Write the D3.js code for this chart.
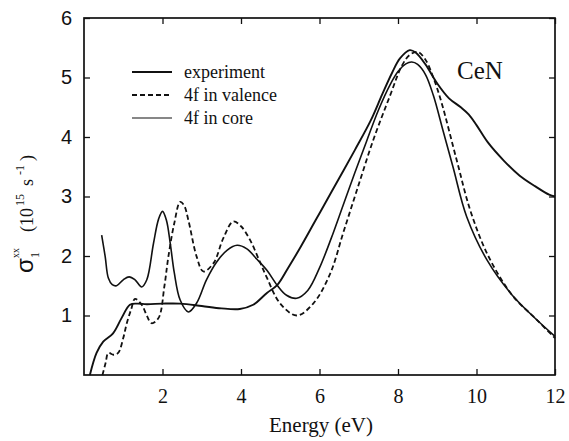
<!DOCTYPE html>
<html>
<head>
<meta charset="utf-8">
<script src="https://cdn.jsdelivr.net/npm/d3@7.9.0/dist/d3.min.js"></script>
<style>
  body { margin: 0; background: #fff; }
  svg { display: block; }
  .serif { font-family: "Liberation Serif", "Times New Roman", serif; }
  .sans { font-family: "Liberation Sans", Arial, sans-serif; }
</style>
</head>
<body>
<svg id="chart" width="569" height="441"></svg>
<script>
// --- data (energy in eV, sigma in 10^15 s^-1) ---
const expE = [0.15, 0.32, 0.49, 0.74, 0.96, 1.17, 1.35, 1.6, 2.0, 2.45, 3.0, 3.5, 3.97, 4.31, 4.66, 4.92, 5.2, 5.5, 5.9, 6.3, 6.9, 7.3, 7.6, 7.85, 8.05, 8.3, 8.45, 8.7, 9.0, 9.3, 9.6, 9.8, 10.0, 10.3, 10.7, 11.1, 11.5, 11.85, 12.0];
const expS = [0, 0.37, 0.56, 0.7, 0.96, 1.18, 1.2, 1.19, 1.2, 1.2, 1.16, 1.12, 1.11, 1.18, 1.38, 1.51, 1.8, 2.13, 2.6, 3.07, 3.78, 4.27, 4.72, 5.08, 5.32, 5.46, 5.42, 5.22, 4.9, 4.65, 4.5, 4.38, 4.2, 3.9, 3.6, 3.35, 3.17, 3.03, 3.0];

const valE = [0.47, 0.55, 0.62, 0.75, 0.87, 1.0, 1.09, 1.2, 1.3, 1.47, 1.6, 1.72, 1.9, 2.05, 2.15, 2.3, 2.45, 2.55, 2.66, 2.87, 3.04, 3.3, 3.55, 3.8, 4.0, 4.23, 4.45, 4.65, 5.0, 5.42, 5.84, 6.27, 6.6, 6.95, 7.37, 7.8, 8.1, 8.3, 8.5, 8.7, 8.9, 9.1, 9.5, 9.85, 10.3, 10.9, 11.5, 12.0];
const valS = [0, 0.2, 0.37, 0.34, 0.37, 0.62, 0.87, 1.1, 1.28, 1.18, 1.0, 0.87, 0.96, 1.5, 1.99, 2.55, 2.91, 2.85, 2.6, 1.99, 1.74, 1.88, 2.3, 2.58, 2.5, 2.27, 1.95, 1.65, 1.2, 1.0, 1.2, 1.7, 2.38, 3.1, 3.95, 4.7, 5.2, 5.38, 5.43, 5.3, 5.0, 4.6, 3.6, 2.75, 2.0, 1.35, 0.95, 0.62];

const coreE = [0.45, 0.54, 0.62, 0.72, 0.83, 1.0, 1.15, 1.3, 1.47, 1.6, 1.77, 1.9, 2.0, 2.1, 2.2, 2.3, 2.45, 2.66, 2.87, 3.12, 3.38, 3.65, 3.9, 4.15, 4.4, 4.66, 4.92, 5.16, 5.42, 5.7, 6.0, 6.3, 6.6, 6.9, 7.2, 7.5, 7.8, 8.0, 8.2, 8.35, 8.5, 8.7, 8.9, 9.15, 9.4, 9.75, 10.27, 10.9, 11.5, 12.0];
const coreS = [2.35, 1.99, 1.63, 1.52, 1.5, 1.6, 1.65, 1.6, 1.48, 1.6, 2.21, 2.62, 2.75, 2.6, 2.2, 1.72, 1.26, 1.06, 1.21, 1.6, 1.9, 2.1, 2.18, 2.12, 1.95, 1.76, 1.51, 1.34, 1.29, 1.42, 1.8, 2.3, 2.85, 3.4, 3.93, 4.45, 4.88, 5.1, 5.23, 5.26, 5.22, 5.05, 4.7, 4.1, 3.5, 2.66, 1.93, 1.35, 0.95, 0.65];

const xTicks = [2, 4, 6, 8, 10, 12];
const yTicks = [1, 2, 3, 4, 5, 6];
const legendLabels = ['experiment', '4f in valence', '4f in core'];

const svg = d3.select('#chart');
const margin = { left: 84, right: 14, top: 18, bottom: 66 };
const W = 569, H = 441;

const x = d3.scaleLinear().domain([0, 12]).range([margin.left, W - margin.right]);
const y = d3.scaleLinear().domain([0, 6]).range([H - margin.bottom, margin.top]);

const tickLen = 6;

// frame
svg.append('rect')
  .attr('x', x(0)).attr('y', y(6))
  .attr('width', x(12) - x(0)).attr('height', y(0) - y(6))
  .attr('fill', 'none').attr('stroke', '#111').attr('stroke-width', 1.7);

// inward ticks on all four sides
const axisStyle = g => {
  g.select('.domain').remove();
  g.attr('font-family', null).attr('font-size', null);
  g.selectAll('.tick line').attr('stroke', '#111').attr('stroke-width', 1.3);
};

svg.append('g')
  .attr('transform', `translate(0,${y(0)})`)
  .call(d3.axisBottom(x).tickValues(xTicks).tickSize(-tickLen).tickPadding(14).tickFormat(d3.format('d')))
  .call(axisStyle)
  .call(g => g.selectAll('.tick text')
    .attr('class', 'serif').style('font-size', '20px').attr('fill', '#111'));

svg.append('g')
  .attr('transform', `translate(0,${y(6)})`)
  .call(d3.axisTop(x).tickValues(xTicks).tickSize(-tickLen).tickFormat(''))
  .call(axisStyle);

svg.append('g')
  .attr('transform', `translate(${x(0)},0)`)
  .call(d3.axisLeft(y).tickValues(yTicks).tickSize(-tickLen).tickPadding(12).tickFormat(d3.format('d')))
  .call(axisStyle)
  .call(g => g.selectAll('.tick text')
    .attr('class', 'sans').style('font-size', '20px').attr('fill', '#111'));

svg.append('g')
  .attr('transform', `translate(${x(12)},0)`)
  .call(d3.axisRight(y).tickValues(yTicks).tickSize(-tickLen).tickFormat(''))
  .call(axisStyle);

// curves
const line = d3.line()
  .x(d => x(d[0]))
  .y(d => y(d[1]))
  .curve(d3.curveCatmullRom.alpha(0.5));

const series = [
  { e: expE, s: expS, width: 1.9, dash: null },
  { e: valE, s: valS, width: 1.8, dash: '5,3' },
  { e: coreE, s: coreS, width: 1.6, dash: null }
];

series.forEach(sr => {
  svg.append('path')
    .datum(d3.zip(sr.e, sr.s))
    .attr('d', line)
    .attr('fill', 'none')
    .attr('stroke', '#111')
    .attr('stroke-width', sr.width)
    .attr('stroke-dasharray', sr.dash);
});

// legend
const legend = svg.append('g');
legendLabels.forEach((lab, i) => {
  const ly = 72 + i * 23;
  legend.append('line')
    .attr('x1', 132).attr('x2', 172)
    .attr('y1', ly).attr('y2', ly)
    .attr('stroke', '#111')
    .attr('stroke-width', i === 2 ? 1.2 : series[i].width)
    .attr('stroke-dasharray', series[i].dash);
  legend.append('text')
    .attr('class', 'serif')
    .attr('x', 184).attr('y', ly + 6)
    .style('font-size', '18px').attr('fill', '#111')
    .text(lab);
});

// compound label
svg.append('text')
  .attr('class', 'serif')
  .attr('x', 457).attr('y', 79)
  .style('font-size', '25px').attr('fill', '#111')
  .text('CeN');

// x axis title
svg.append('text')
  .attr('class', 'serif')
  .attr('x', 321).attr('y', 432)
  .attr('text-anchor', 'middle')
  .style('font-size', '21px').attr('fill', '#111')
  .text('Energy (eV)');

// y axis title: sigma_1^xx (10^15 s^-1), laid out piece by piece
const yt = svg.append('g')
  .attr('class', 'serif')
  .attr('transform', 'translate(33,273) rotate(-90)')
  .attr('fill', '#111');
const yPieces = [
  { t: 'σ', x: 0, y: 0, size: 24, cls: 'sans' },
  { t: '1', x: 15, y: 6, size: 12 },
  { t: 'xx', x: 15, y: -14, size: 10 },
  { t: '(10', x: 41, y: 0, size: 18 },
  { t: '15', x: 67, y: -9, size: 12 },
  { t: 's', x: 87, y: 0, size: 18 },
  { t: '-1', x: 98, y: -9, size: 12 },
  { t: ')', x: 112, y: 0, size: 18 }
];
yPieces.forEach(p => {
  yt.append('text')
    .attr('class', p.cls || 'serif')
    .attr('x', p.x).attr('y', p.y)
    .style('font-size', p.size + 'px')
    .text(p.t);
});
</script>
</body>
</html>
